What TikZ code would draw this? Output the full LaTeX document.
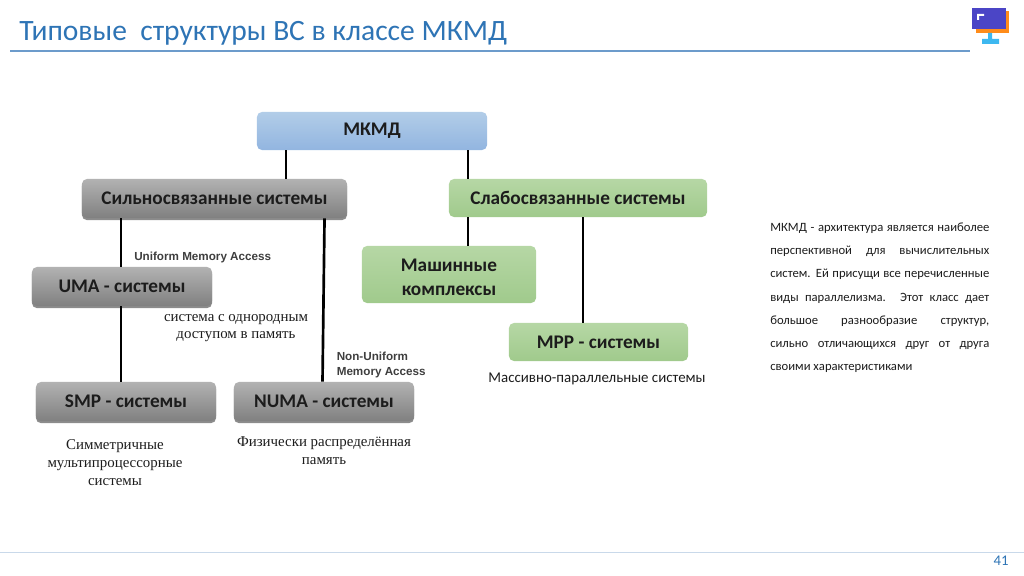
\documentclass[tikz,border=0pt]{standalone}
\usepackage{fontspec}
\setmainfont{Carlito}
\newfontfamily\timesfont{Liberation Serif}
\newfontfamily\arialfont{Liberation Sans}
\usetikzlibrary{shadows}
\definecolor{titleblue}{HTML}{2E74B5}
\definecolor{rulecol}{HTML}{6C9BCB}
\definecolor{footcol}{HTML}{C9D9EA}
\definecolor{inktext}{HTML}{1C1C1C}
\definecolor{bluetop}{HTML}{B2CDE8}
\definecolor{bluebot}{HTML}{92B5E0}
\definecolor{greentop}{HTML}{B6D7A5}
\definecolor{greenbot}{HTML}{A0CA8C}
\definecolor{greytop}{HTML}{B2B2B2}
\definecolor{greybot}{HTML}{808080}
\definecolor{iconviolet}{HTML}{4B45C6}
\definecolor{iconorange}{HTML}{FF8C1A}
\definecolor{iconsky}{HTML}{3DB8F0}
\tikzset{
  box/.style={rounded corners=3.5pt, inner sep=0pt, align=center, text=inktext, font=\fontsize{13.7}{17}\selectfont\bfseries},
  bluebox/.style={box, top color=bluetop, bottom color=bluebot},
  greenbox/.style={box, top color=greentop, bottom color=greenbot},
  greybox/.style={box, top color=greytop, bottom color=greybot,
    drop shadow={shadow xshift=0pt, shadow yshift=-1.5pt, opacity=.45, fill=black}},
  link/.style={line width=1.9pt, black},
  cmt/.style={inner sep=0pt, align=center, text=inktext, font=\timesfont\fontsize{10.6}{12.6}\selectfont},
  engl/.style={inner sep=0pt, align=left, text=inktext!85, font=\arialfont\fontsize{8.3}{10}\selectfont\bfseries},
}
\begin{document}
\begin{tikzpicture}[x=0.025cm, y=-0.025cm]
    \useasboundingbox (0,0) rectangle (1024,576);
    % Header and footer
    \node[inner sep=0pt, anchor=west, text=titleblue, font=\fontsize{21}{25}\selectfont] (title) at (19,33) {Типовые\ \ структуры ВС в классе МКМД};
    \coordinate (ruleL) at (10,51);
    \coordinate (ruleR) at (970,51);
    \draw[rulecol, line width=1.6pt] (ruleL) -- (ruleR);
    \coordinate (footL) at (0,552);
    \coordinate (footR) at (1024,552);
    \draw[footcol, line width=0.7pt] (footL) -- (footR);
    \node[inner sep=0pt, text=titleblue, font=\fontsize{10.5}{12}\selectfont] (pagenum) at (1001,561) {41};
    % Icon
    \fill[iconorange] (976,11) rectangle (1009,33);
    \fill[iconviolet] (972,8) rectangle (1006,29);
    \fill[iconsky] (988,33) rectangle (992,39) (982,39) rectangle (999,44);
    \fill[white] (977,14) rectangle (984,16) (977,14) rectangle (979,20);
    % Nodes
    \node[bluebox, minimum width=230*0.7113pt, minimum height=38*0.7113pt] (mkmd) at (372,131) {МКМД};
    \node[greybox, minimum width=265*0.7113pt, minimum height=39*0.7113pt] (strong) at (214.5,198.5) {Сильносвязанные системы};
    \node[greenbox, minimum width=258*0.7113pt, minimum height=38*0.7113pt] (weak) at (578,198) {Слабосвязанные системы};
    \node[greybox, minimum width=180*0.7113pt, minimum height=39*0.7113pt] (uma) at (122,286.5) {UMA - системы};
    \node[greenbox, minimum width=174*0.7113pt, minimum height=57*0.7113pt] (mach) at (449,274.5) {\rule{0pt}{12.5pt}Машинные\\комплексы};
    \node[greenbox, minimum width=179*0.7113pt, minimum height=38*0.7113pt] (mpp) at (598.5,342) {MPP - системы};
    \node[greybox, minimum width=180*0.7113pt, minimum height=39*0.7113pt] (smp) at (126,401.5) {SMP - системы};
    \node[greybox, minimum width=180*0.7113pt, minimum height=39*0.7113pt] (numa) at (324,401.5) {NUMA - системы};
    % Labels
    \node[engl, anchor=west] (umaname) at (134,257) {Uniform Memory Access};
    \node[engl, anchor=west] (numaname) at (336.5,365) {Non-Uniform\\Memory Access};
    \node[cmt] (umatext) at (236,328) {система с однородным\\доступом в память};
    \node[cmt] (smptext) at (115,462.5) {Симметричные\\мультипроцессорные\\системы};
    \node[cmt] (numatext) at (324,450.5) {Физически распределённая\\память};
    \node[inner sep=0pt, text=inktext, font=\fontsize{10.6}{12}\selectfont] (mpptext) at (597,378.5) {Массивно-параллельные системы};
    \node[inner sep=0pt, anchor=north west, text width=219*0.7113pt, align=justify, text=inktext, font=\fontsize{9}{16.5}\selectfont] (about) at (770,222.5) {МКМД - архитектура является наиболее\linebreak
      перспективной для вычислительных\linebreak
      систем. Ей присущи все перечисленные\linebreak
      виды параллелизма. Этот класс дает\linebreak
      большое разнообразие структур,\linebreak
      сильно отличающихся друг от друга\linebreak
      своими характеристиками};
    % Edges
    \coordinate (a) at (286,0);
    \coordinate (b) at (468,0);
    \coordinate (c) at (121,0);
    \coordinate (d) at (583,0);
    \draw[link] (mkmd.south -| a) -- (strong.north -| a);
    \draw[link] (mkmd.south -| b) -- (weak.north -| b);
    \draw[link] (strong.south -| c) -- (uma.north -| c);
    \draw[link] (uma.south -| c) -- (smp.north -| c);
    \draw[link] ([xshift=110*0.7113pt]strong.south) -- ([xshift=-1.5*0.7113pt]numa.north);
    \draw[link] (weak.south -| b) -- (mach.north -| b);
    \draw[link] (weak.south -| d) -- (mpp.north -| d);
\end{tikzpicture}
\end{document}
